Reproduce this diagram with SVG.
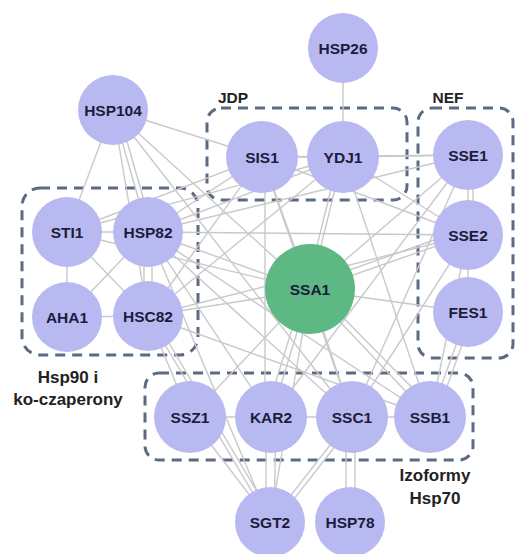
<svg xmlns="http://www.w3.org/2000/svg" width="515" height="554" viewBox="0 0 515 554">
<style>
.e{stroke:#c9c9c9;stroke-width:1.4;fill:none}
.n{fill:#b9b9f1}
.hub{fill:#5db883}
.t{font-family:"Liberation Sans",Arial,sans-serif;font-weight:bold;font-size:15.5px;fill:#1c1c3c;text-anchor:middle;dominant-baseline:central}
.g{fill:none;stroke:#5a6b82;stroke-width:3;stroke-dasharray:10 7}
.gl{font-family:"Liberation Sans",Arial,sans-serif;font-weight:bold;font-size:17px;fill:#222;text-anchor:middle}
</style>
<rect width="515" height="554" fill="#fff"/>
<g id="groups">
<rect class="g" x="207" y="108" width="200" height="92" rx="14"/>
<rect class="g" x="418" y="108" width="95" height="250" rx="14"/>
<rect class="g" x="22" y="188" width="176" height="167" rx="18"/>
<rect class="g" x="145" y="373" width="328" height="87" rx="14"/>
<text class="gl" x="233" y="103" style="font-size:15.5px">JDP</text>
<text class="gl" x="448" y="103" style="font-size:15.5px">NEF</text>
<text class="gl" x="68" y="383">Hsp90 i</text>
<text class="gl" x="68" y="405">ko-czaperony</text>
<text class="gl" x="435" y="481">Izoformy</text>
<text class="gl" x="435" y="504">Hsp70</text>
</g>
<g id="connectors">
<line class="e" x1="343" y1="48" x2="343" y2="157"/>
<line class="e" x1="113" y1="110" x2="67" y2="232"/>
<line class="e" x1="113" y1="110" x2="148" y2="232"/>
<line class="e" x1="118" y1="110" x2="153" y2="232"/>
<line class="e" x1="113" y1="110" x2="148" y2="316"/>
<line class="e" x1="113" y1="110" x2="262" y2="157"/>
<line class="e" x1="113" y1="110" x2="310" y2="290"/>
<line class="e" x1="113" y1="110" x2="352" y2="417"/>
<line class="e" x1="67" y1="232" x2="148" y2="232"/>
<line class="e" x1="67" y1="232" x2="67" y2="317"/>
<line class="e" x1="67" y1="232" x2="148" y2="316"/>
<line class="e" x1="67" y1="317" x2="148" y2="232"/>
<line class="e" x1="67" y1="317" x2="148" y2="316"/>
<line class="e" x1="144" y1="232" x2="144" y2="316"/>
<line class="e" x1="152" y1="232" x2="152" y2="316"/>
<line class="e" x1="67" y1="232" x2="262" y2="157"/>
<line class="e" x1="67" y1="232" x2="343" y2="157"/>
<line class="e" x1="67" y1="232" x2="310" y2="290"/>
<line class="e" x1="148" y1="232" x2="262" y2="157"/>
<line class="e" x1="148" y1="232" x2="343" y2="157"/>
<line class="e" x1="148" y1="232" x2="468" y2="155"/>
<line class="e" x1="148" y1="232" x2="468" y2="235"/>
<line class="e" x1="148" y1="232" x2="310" y2="290"/>
<line class="e" x1="148" y1="232" x2="430" y2="417"/>
<line class="e" x1="148" y1="232" x2="352" y2="417"/>
<line class="e" x1="148" y1="232" x2="270" y2="522"/>
<line class="e" x1="148" y1="232" x2="271" y2="417"/>
<line class="e" x1="148" y1="316" x2="262" y2="157"/>
<line class="e" x1="148" y1="316" x2="343" y2="157"/>
<line class="e" x1="148" y1="316" x2="468" y2="235"/>
<line class="e" x1="148" y1="316" x2="310" y2="290"/>
<line class="e" x1="148" y1="316" x2="430" y2="417"/>
<line class="e" x1="148" y1="316" x2="190" y2="417"/>
<line class="e" x1="148" y1="316" x2="270" y2="522"/>
<line class="e" x1="153" y1="316" x2="275" y2="522"/>
<line class="e" x1="262" y1="157" x2="343" y2="157"/>
<line class="e" x1="262" y1="157" x2="468" y2="155"/>
<line class="e" x1="262" y1="157" x2="468" y2="235"/>
<line class="e" x1="262" y1="157" x2="310" y2="290"/>
<line class="e" x1="265" y1="157" x2="265" y2="417"/>
<line class="e" x1="262" y1="157" x2="352" y2="417"/>
<line class="e" x1="343" y1="157" x2="468" y2="155"/>
<line class="e" x1="343" y1="157" x2="468" y2="235"/>
<line class="e" x1="343" y1="157" x2="310" y2="290"/>
<line class="e" x1="339" y1="157" x2="306" y2="290"/>
<line class="e" x1="343" y1="157" x2="430" y2="417"/>
<line class="e" x1="468" y1="155" x2="468" y2="235"/>
<line class="e" x1="473" y1="155" x2="473" y2="235"/>
<line class="e" x1="468" y1="155" x2="310" y2="290"/>
<line class="e" x1="468" y1="155" x2="352" y2="417"/>
<line class="e" x1="468" y1="155" x2="271" y2="417"/>
<line class="e" x1="468" y1="235" x2="468" y2="312"/>
<line class="e" x1="468" y1="235" x2="310" y2="290"/>
<line class="e" x1="468" y1="228" x2="310" y2="284"/>
<line class="e" x1="468" y1="235" x2="430" y2="417"/>
<line class="e" x1="468" y1="235" x2="352" y2="417"/>
<line class="e" x1="468" y1="312" x2="310" y2="290"/>
<line class="e" x1="468" y1="312" x2="430" y2="417"/>
<line class="e" x1="474" y1="312" x2="436" y2="417"/>
<line class="e" x1="310" y1="290" x2="430" y2="417"/>
<line class="e" x1="316" y1="290" x2="436" y2="412"/>
<line class="e" x1="310" y1="290" x2="352" y2="417"/>
<line class="e" x1="310" y1="290" x2="271" y2="417"/>
<line class="e" x1="304" y1="290" x2="265" y2="417"/>
<line class="e" x1="310" y1="290" x2="190" y2="417"/>
<line class="e" x1="310" y1="290" x2="270" y2="522"/>
<line class="e" x1="190" y1="417" x2="271" y2="417"/>
<line class="e" x1="271" y1="417" x2="352" y2="417"/>
<line class="e" x1="352" y1="417" x2="430" y2="417"/>
<line class="e" x1="190" y1="417" x2="270" y2="522"/>
<line class="e" x1="266" y1="417" x2="266" y2="522"/>
<line class="e" x1="276" y1="417" x2="274" y2="522"/>
<line class="e" x1="352" y1="417" x2="270" y2="522"/>
<line class="e" x1="358" y1="417" x2="276" y2="522"/>
<line class="e" x1="346" y1="417" x2="346" y2="522"/>
<line class="e" x1="355" y1="417" x2="355" y2="522"/>
</g>
<g id="HSP26"><circle class="n" cx="343" cy="48" r="35"/><text class="t" x="343" y="48">HSP26</text></g>
<g id="HSP104"><circle class="n" cx="113" cy="110" r="35"/><text class="t" x="113" y="110">HSP104</text></g>
<g id="SIS1"><circle class="n" cx="262" cy="157" r="36"/><text class="t" x="262" y="157">SIS1</text></g>
<g id="YDJ1"><circle class="n" cx="343" cy="157" r="36"/><text class="t" x="343" y="157">YDJ1</text></g>
<g id="SSE1"><circle class="n" cx="468" cy="155" r="35"/><text class="t" x="468" y="155">SSE1</text></g>
<g id="STI1"><circle class="n" cx="67" cy="232" r="35"/><text class="t" x="67" y="232">STI1</text></g>
<g id="HSP82"><circle class="n" cx="148" cy="232" r="35"/><text class="t" x="148" y="232">HSP82</text></g>
<g id="SSE2"><circle class="n" cx="468" cy="235" r="35"/><text class="t" x="468" y="235">SSE2</text></g>
<g id="SSA1"><circle class="hub" cx="310" cy="289" r="45"/><text class="t" x="310" y="289">SSA1</text></g>
<g id="AHA1"><circle class="n" cx="67" cy="317" r="35"/><text class="t" x="67" y="317">AHA1</text></g>
<g id="HSC82"><circle class="n" cx="148" cy="316" r="35"/><text class="t" x="148" y="316">HSC82</text></g>
<g id="FES1"><circle class="n" cx="468" cy="312" r="35"/><text class="t" x="468" y="312">FES1</text></g>
<g id="SSZ1"><circle class="n" cx="190" cy="417" r="36"/><text class="t" x="190" y="417">SSZ1</text></g>
<g id="KAR2"><circle class="n" cx="271" cy="417" r="36"/><text class="t" x="271" y="417">KAR2</text></g>
<g id="SSC1"><circle class="n" cx="352" cy="417" r="36"/><text class="t" x="352" y="417">SSC1</text></g>
<g id="SSB1"><circle class="n" cx="430" cy="417" r="36"/><text class="t" x="430" y="417">SSB1</text></g>
<g id="SGT2"><circle class="n" cx="270" cy="522" r="35"/><text class="t" x="270" y="522">SGT2</text></g>
<g id="HSP78"><circle class="n" cx="350" cy="522" r="35"/><text class="t" x="350" y="522">HSP78</text></g>
</svg>
